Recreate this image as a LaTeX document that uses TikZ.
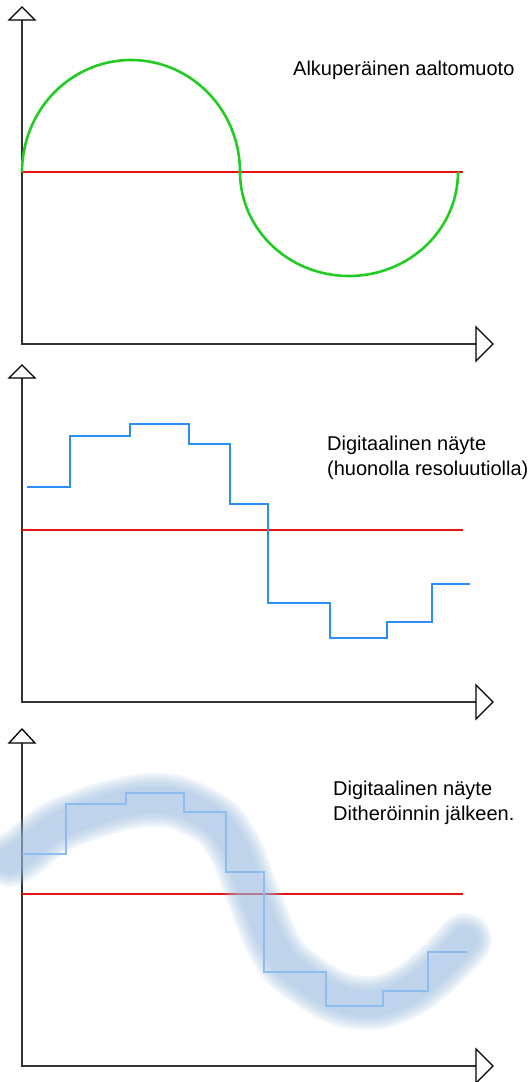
\documentclass[tikz,border=0pt]{standalone}
\usepackage{fontspec}
\setmainfont{Liberation Sans}
\definecolor{axiscolor}{HTML}{333333}
\definecolor{zeroline}{HTML}{E81010}
\definecolor{wavegreen}{HTML}{22CC22}
\definecolor{sampleblue}{HTML}{2A8FF7}
\definecolor{ditherblue}{HTML}{8DBDEE}
\definecolor{bandcolor}{HTML}{9CBCDE}

\tikzset{
  axis/.style={draw=axiscolor, line width=1.6pt},
  axistip/.style={draw=black, line width=1.3pt, fill=white, line join=miter},
  zero/.style={draw=zeroline, line width=1.6pt},
  notetext/.style={font=\fontsize{20}{25}\selectfont, inner sep=0pt, anchor=base west},
}

\begin{document}
\begin{tikzpicture}[x=1pt, y=-1pt]

  \useasboundingbox (0,0) rectangle (532,1082);

  % Original waveform
  \draw[axis] (22,20) -- (22,344) -- (476,344);
  \draw[axistip] (22,7) -- (9,20) -- (35,20) -- cycle;
  \draw[axistip] (493,344) -- (476,327) -- (476,361) -- cycle;
  \draw[zero] (22,172) -- (463,172);
  \draw[wavegreen, line width=2.6pt]
    plot[domain=180:0, samples=90] ({131+109*cos(\x)}, {172-112*sin(\x)})
    -- plot[domain=180:360, samples=90] ({349+109*cos(\x)}, {172-104*sin(\x)});
  \node[notetext] (orig) at (293,75) {Alkuperäinen aaltomuoto};

  % Digital sample, low resolution
  \draw[axis] (22,378) -- (22,702) -- (476,702);
  \draw[axistip] (22,365) -- (9,378) -- (35,378) -- cycle;
  \draw[axistip] (493,702) -- (476,685) -- (476,719) -- cycle;
  \draw[zero] (22,530) -- (463,530);
  \draw[sampleblue, line width=2pt]
    (27,487) -| (70,436) -| (130,424) -| (189,444) -| (230,504)
    -| (268,603) -| (330,638) -| (387,622) -| (432,584) -- (470,584);
  \node[notetext] (sample) at (327,450) {Digitaalinen näyte};
  \node[notetext] (sampleres) at (327,475) {(huonolla resoluutiolla)};

  % Digital sample after dithering
  \draw[axis] (22,743) -- (22,1066) -- (476,1066);
  \draw[axistip] (22,729) -- (9,743) -- (35,743) -- cycle;
  \draw[axistip] (493,1066) -- (476,1049) -- (476,1083) -- cycle;
  \draw[zero] (22,894) -- (463,894);
  \foreach \w in {54,50,...,26}
    \draw[bandcolor, line width=\w pt, opacity=0.12, line cap=round, line join=round]
      plot[smooth, tension=0.7] coordinates {(10,860) (22,853) (67,822) (150,800)
        (205,815) (233,845) (253,895) (275,947) (300,975) (353,1002) (410,990) (465,940)};
  \draw[ditherblue, line width=1.3pt]
    (22,854) -| (66,804) -| (126,793) -| (184,812) -| (226,872)
    -| (264,972) -| (326,1006) -| (383,991) -| (428,952) -- (467,952);
  \node[notetext] (dither) at (333,795) {Digitaalinen näyte};
  \node[notetext] (ditherafter) at (333,820) {Ditheröinnin jälkeen.};

\end{tikzpicture}
\end{document}
